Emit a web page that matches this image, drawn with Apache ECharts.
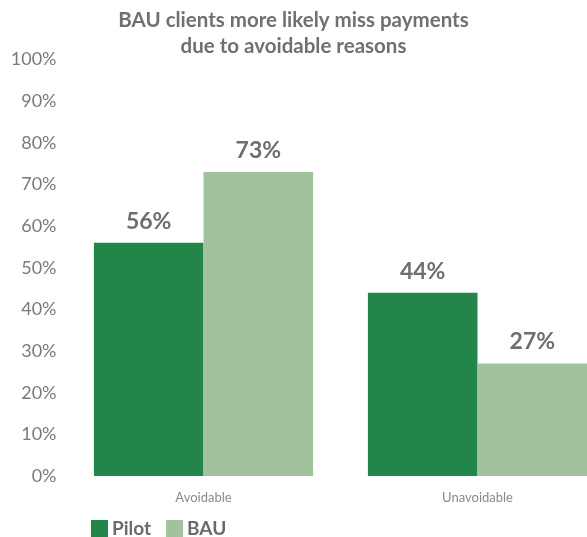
<!DOCTYPE html>
<html><head><meta charset="utf-8">
<script src="https://cdn.jsdelivr.net/npm/echarts@6/dist/echarts.min.js"></script>
<style>html,body{margin:0;padding:0;background:#fff}#c{width:587px;height:537px}</style>
</head><body><div id="c"></div>
<script>
const categories = ['Avoidable', 'Unavoidable'];
const pilot = [56, 44];
const bau = [73, 27];
const yTicks = [0, 10, 20, 30, 40, 50, 60, 70, 80, 90, 100];

const chart = echarts.init(document.getElementById('c'));
const font = 'Lato, "Open Sans", sans-serif';
chart.setOption({
  animation: false,
  title: {
    text: 'BAU clients more likely miss payments\ndue to avoidable reasons',
    left: 'center', top: 7, padding: 0,
    textStyle: { color: '#707070', fontSize: 20.5, fontWeight: 'bold', fontFamily: font, lineHeight: 26 }
  },
  legend: {
    left: 91, top: 519, padding: 0, itemWidth: 17, itemHeight: 17, itemGap: 15,
    icon: 'rect',
    textStyle: { color: '#6b6b6b', fontSize: 19, fontWeight: 'bold', fontFamily: font, padding: [0, 0, 0, -1] },
    data: ['Pilot', 'BAU']
  },
  grid: { left: 66.5, width: 548, top: 59.5, height: 416.5, outerBoundsMode: 'none', containLabel: false },
  xAxis: {
    type: 'category', data: categories,
    axisLine: { show: false }, axisTick: { show: false },
    axisLabel: { color: '#8a8a8a', fontSize: 13, fontFamily: font, margin: 15 }
  },
  yAxis: {
    type: 'value', min: 0, max: 100, interval: 10,
    splitLine: { show: false }, axisLine: { show: false }, axisTick: { show: false },
    axisLabel: {
      color: '#7a7a7a', fontSize: 18, fontFamily: font, margin: 10, padding: [7, 0, 0, 0],
      formatter: v => yTicks.includes(v) ? v + '%' : ''
    }
  },
  series: [
    { name: 'Pilot', type: 'bar', data: pilot, barGap: '0%', barCategoryGap: '20%',
      itemStyle: { color: '#22864a' },
      label: { show: true, position: 'top', distance: 10, formatter: '{c}%', color: '#6e6e6e', fontSize: 23, fontWeight: 'bold', fontFamily: font } },
    { name: 'BAU', type: 'bar', data: bau, barGap: '0%', barCategoryGap: '20%',
      itemStyle: { color: '#a2c19d' },
      label: { show: true, position: 'top', distance: 10, formatter: '{c}%', color: '#6e6e6e', fontSize: 23, fontWeight: 'bold', fontFamily: font } }
  ]
});
</script></body></html>
